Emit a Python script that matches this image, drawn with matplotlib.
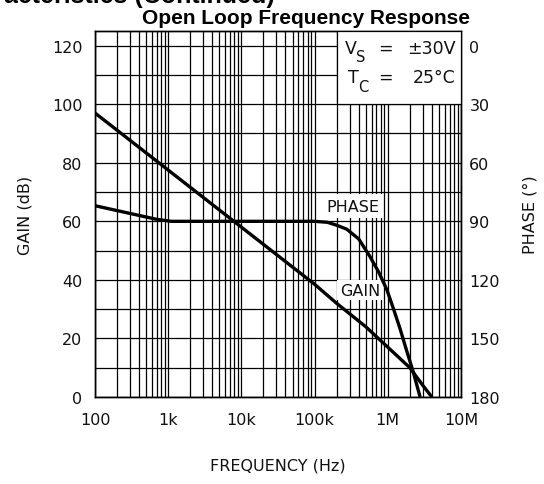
import matplotlib
matplotlib.use('Agg')
import matplotlib.pyplot as plt
from matplotlib.patches import Rectangle
from matplotlib.ticker import FixedLocator, NullFormatter

# Gain curve (Hz, dB)
gain_freq = [100, 1e3, 1e4, 1e5, 2e5, 5e5, 1e6, 2e6, 3e6, 4e6]
gain_db = [97, 77.5, 58, 38.5, 32, 24, 17, 10, 4, 0]

# Phase curve (Hz, degrees)
phase_freq = [100, 700, 1.1e3, 1e5, 1.5e5, 2e5, 2.74e5, 4e5, 5.7e5, 7.5e5, 9.7e5,
              1.2e6, 1.47e6, 1.8e6, 2.22e6, 2.76e6]
phase_deg = [82, 89, 90, 90, 90.5, 92, 94, 99, 108, 116, 125, 135, 145, 156, 167, 180]

gain_ticks = [0, 20, 40, 60, 80, 100, 120]
phase_ticks = [0, 30, 60, 90, 120, 150, 180]
freq_ticks = [1e2, 1e3, 1e4, 1e5, 1e6, 1e7]
freq_labels = ['100', '1k', '10k', '100k', '1M', '10M']

txt = dict(family='DejaVu Sans', fontsize=11.5, color='#111111')
W, H = 544, 485


def px(x, y):
    # pixel position (from top-left) to figure fraction
    return x / W, 1 - y / H


fig = plt.figure(figsize=(5.44, 4.85), dpi=100)
ax = fig.add_axes([95 / W, 87 / H, 366 / W, 366 / H])

ax.set_xscale('log')
ax.set_xlim(100, 1e7)
ax.set_ylim(0, 125)

# grid: every 1..9 per decade and every 10 dB
ax.xaxis.set_major_locator(FixedLocator(freq_ticks))
ax.xaxis.set_minor_locator(FixedLocator([m * 10 ** e for e in range(2, 7) for m in range(2, 10)]))
ax.xaxis.set_minor_formatter(NullFormatter())
ax.set_xticklabels(freq_labels, **txt)
ax.set_yticks(gain_ticks)
ax.set_yticklabels([str(t) for t in gain_ticks], **txt)
ax.yaxis.set_minor_locator(FixedLocator([10, 30, 50, 70, 90, 110]))
ax.grid(which='both', color='black', lw=0.9)
ax.tick_params(which='both', length=0)
ax.tick_params(axis='x', pad=11)
ax.tick_params(axis='y', pad=9)
for s in ax.spines.values():
    s.set_linewidth(1.0)

ax.plot(gain_freq, gain_db, color='black', lw=2.4, zorder=5, solid_capstyle='butt')

# curve labels with white background over the grid
ax.text(3.3e5, 65.2, 'PHASE', ha='center', va='center', zorder=4,
        bbox=dict(facecolor='white', edgecolor='none', pad=3), **txt)
ax.text(4.2e5, 36.5, 'GAIN', ha='center', va='center', zorder=4,
        bbox=dict(facecolor='white', edgecolor='none', pad=2), **txt)

ax2 = ax.twinx()
ax2.set_ylim(180, -7.5)
ax2.set_yticks(phase_ticks)
ax2.set_yticklabels([str(t) for t in phase_ticks], **txt)
ax2.tick_params(length=0, pad=6)
ax2.plot(phase_freq, phase_deg, color='black', lw=2.4, zorder=5, solid_capstyle='butt')
for s in ax2.spines.values():
    s.set_linewidth(1.0)

# conditions box in the top right corner
box = dict(family='DejaVu Sans', fontsize=12.5, color='#111111')
sub = dict(family='DejaVu Sans', fontsize=10.5, color='#111111')
ax2.add_patch(Rectangle((2e5, 100), 1e7 - 2e5, 25, transform=ax.transData,
                        facecolor='white', edgecolor='black', lw=0.9, zorder=6))
fig.text(*px(345, 49), 'V', va='center', ha='left', **box)
fig.text(*px(356, 58), 'S', va='center', ha='left', **sub)
fig.text(*px(385, 49), '=', va='center', ha='center', **box)
fig.text(*px(456, 49), '±30V', va='center', ha='right', **box)
fig.text(*px(348, 78), 'T', va='center', ha='left', **box)
fig.text(*px(358, 87), 'C', va='center', ha='left', **sub)
fig.text(*px(385, 78), '=', va='center', ha='center', **box)
fig.text(*px(456, 78), '25°C', va='center', ha='right', **box)

ax.set_ylabel('GAIN (dB)', labelpad=14, **txt)
ax2.set_ylabel('PHASE (°)', labelpad=16, **txt)
fig.text(*px(278, 466), 'FREQUENCY (Hz)', ha='center', va='center', **txt)

fig.text(*px(306, 18), 'Open Loop Frequency Response', ha='center', va='center',
         family='Liberation Sans', fontweight='bold', fontsize=15)
# heading of the page, cut off at the top edge
fig.text(*px(275, 3), 'Typical Performance Characteristics (Continued)',
         ha='right', va='baseline', family='Liberation Sans', fontweight='bold', fontsize=18)

fig.savefig('out.png', dpi=100)
